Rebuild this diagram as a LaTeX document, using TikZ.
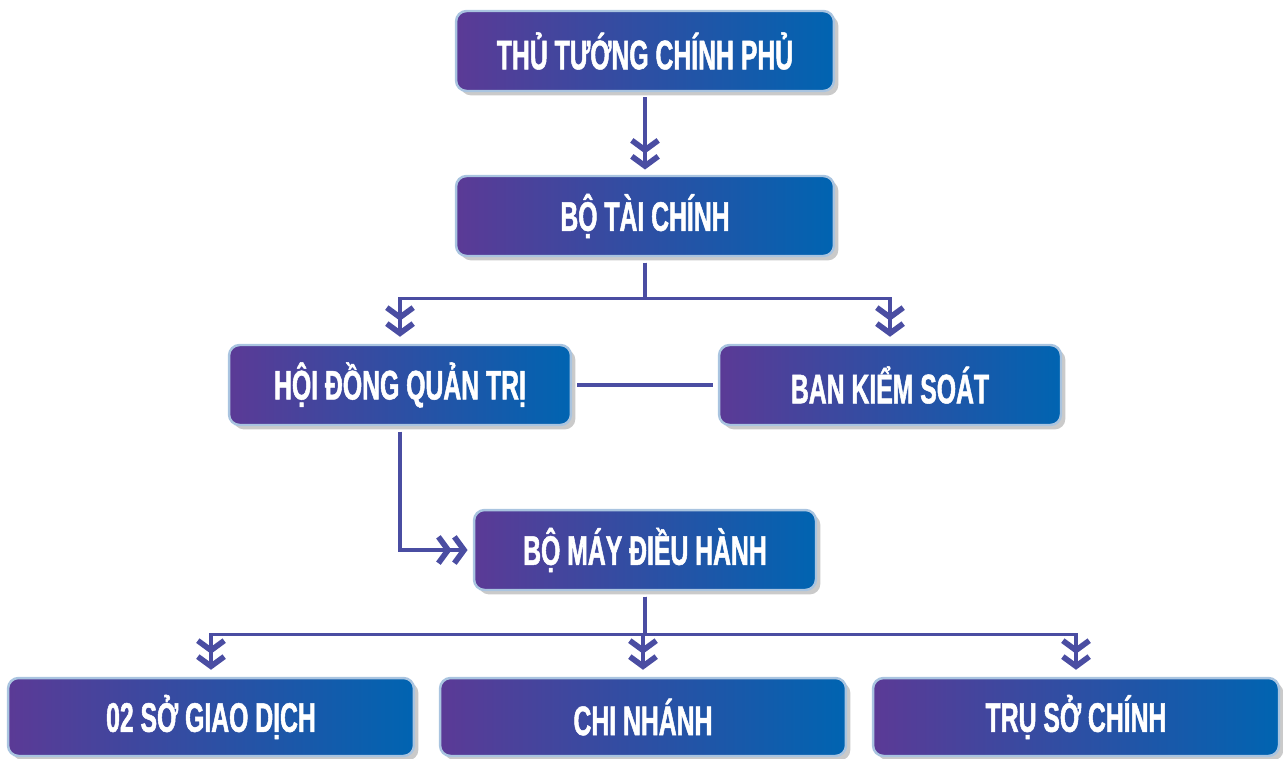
\documentclass[tikz,border=0pt]{standalone}
\usepackage{fontspec}
\newfontfamily\boxfont{Liberation Sans}[FakeStretch=0.6,FakeBold=1.2]
\usepackage{tikz}
\usetikzlibrary{arrows.meta,shadows,positioning,calc}
\definecolor{boxpurple}{HTML}{5B3A96}
\definecolor{boxblue}{HTML}{0064B1}
\definecolor{boxedge}{HTML}{A9C4E0}
\definecolor{linkcol}{HTML}{4A4DA2}

\begin{document}
\begin{tikzpicture}[x=0.02cm,y=-0.02cm]
\tikzset{box/.style={rounded corners=6pt,draw=boxedge,line width=1.4pt,
  left color=boxpurple,right color=boxblue,text=white,
  font=\boxfont\bfseries\fontsize{23.5}{26}\selectfont,
  minimum height=1.6cm,
  drop shadow={shadow xshift=2.5pt,shadow yshift=-2.5pt,opacity=0.35,fill=black!60}},
  link/.style={line width=1.8pt,draw=linkcol,
  -{Straight Barb[length=5.5pt,width=15pt,line width=3.2pt]Straight Barb[length=5.5pt,width=15pt,line width=3.2pt]}}}
\useasboundingbox (0,0) rectangle (1283,758);

\node[box,minimum width=7.56cm] (pm) at (645,51) {THỦ TƯỚNG CHÍNH PHỦ};
\node[box,minimum width=7.56cm] (mof) at (645,216) {BỘ TÀI CHÍNH};
\node[box,minimum width=6.84cm] (hdqt) at (400,385) {HỘI ĐỒNG QUẢN TRỊ};
\node[box,minimum width=6.84cm] (bks) at (890,385) {BAN KIỂM SOÁT};
\node[box,minimum width=6.84cm] (bmdh) at (645,550) {BỘ MÁY ĐIỀU HÀNH};
\foreach \n/\x/\t in {sgd/211/02 SỞ GIAO DỊCH,cn/643/CHI NHÁNH,tsc/1076/TRỤ SỞ CHÍNH}
  \node[box,minimum width=8.12cm,minimum height=1.56cm] (\n) at (\x,717) {\t};

\draw[link,shorten <=3pt,shorten >=3pt] (pm.south) -- (mof.north);
\foreach \d in {hdqt,bks}
  \draw[link,shorten <=3pt,shorten >=4pt] (mof.south) -- ++(0,41) -| (\d.north);
\draw[line width=1.8pt,draw=linkcol,shorten <=3pt,shorten >=3pt] (hdqt.east) -- (bks.west);
\draw[link,shorten <=3pt,shorten >=3pt] (hdqt.south) |- (bmdh.west);
\foreach \d in {sgd,cn,tsc}
  \draw[link,shorten <=3pt,shorten >=4pt] (bmdh.south) -- ++(0,43) -| (\d.north);
\end{tikzpicture}
\end{document}
